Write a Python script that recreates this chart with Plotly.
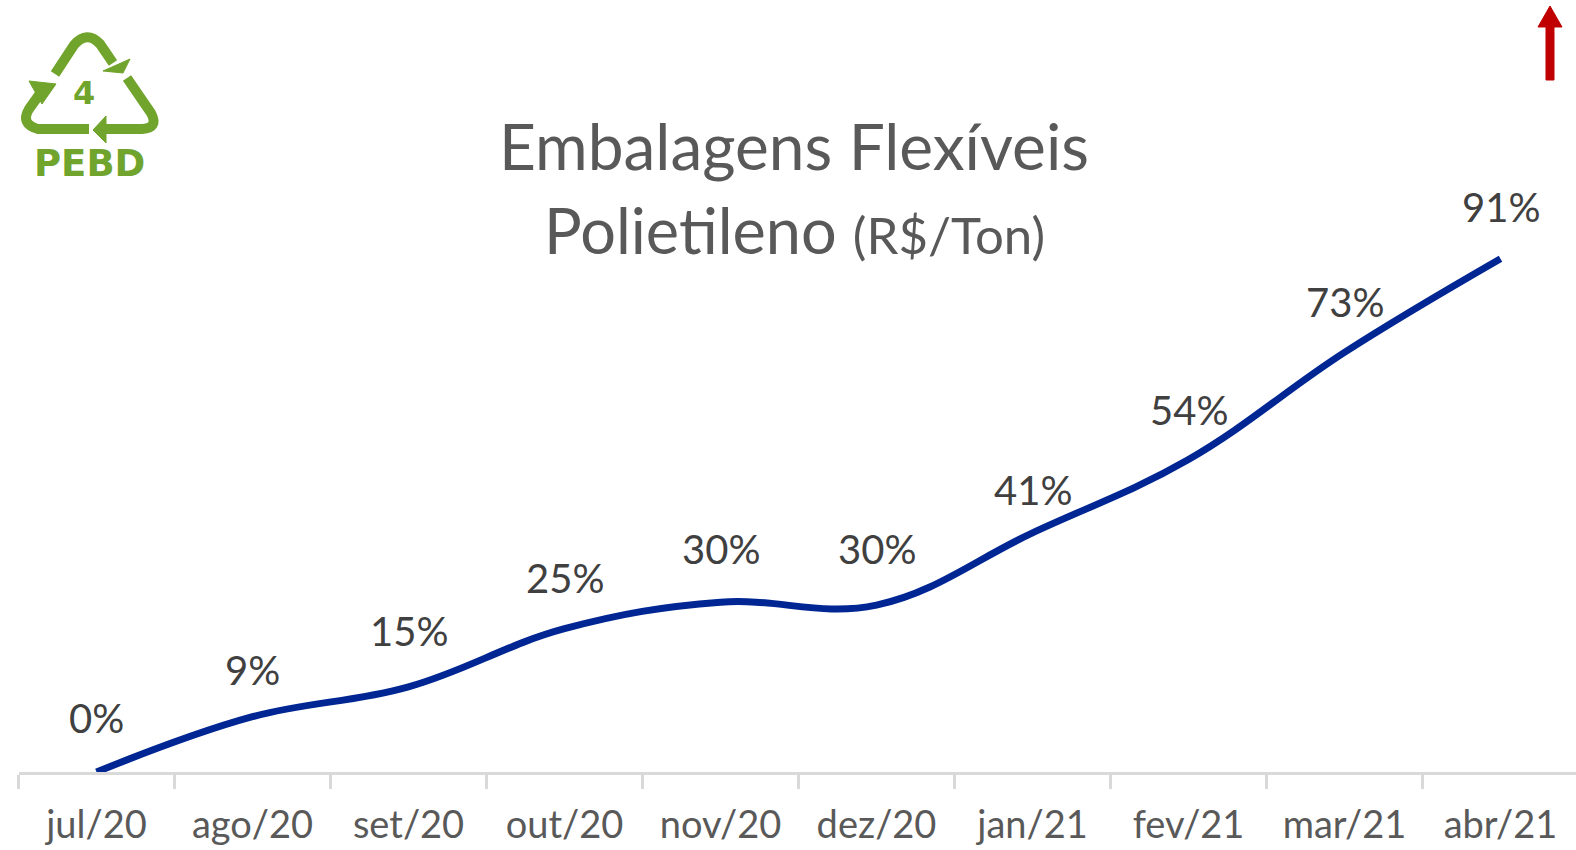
import plotly.graph_objects as go

W, H = 1576, 850
months = ["jul/20", "ago/20", "set/20", "out/20", "nov/20", "dez/20", "jan/21", "fev/21", "mar/21", "abr/21"]
series_values = [0, 9.8, 15.1, 25.4, 30.1, 29.6, 42.4, 55.4, 74.4, 91]
value_labels = ["0%", "9%", "15%", "25%", "30%", "30%", "41%", "54%", "73%", "91%"]
label_lift = [54, 47, 56, 51, 53, 56, 43, 50, 50, 52]

GREEN = "#70a42c"
RED = "#c00000"
TEXT = "#595959"
AXIS = "#d9d9d9"
FONT = "Lato, Carlito, sans-serif"


def px(x):
    return x / W


def py(y):
    return 1 - y / H


def path(cmds):
    out = []
    for c in cmds:
        if isinstance(c, str):
            out.append(c)
        else:
            out.append(f"{px(c[0]):.5f},{py(c[1]):.5f}")
    return " ".join(out)


def stroke(cmds, color=GREEN, width=10):
    return dict(type="path", xref="paper", yref="paper", path=path(cmds),
                line=dict(color=color, width=width), layer="above")


def solid(cmds, color=GREEN):
    return dict(type="path", xref="paper", yref="paper", path=path(cmds) + " Z",
                fillcolor=color, line=dict(color=color, width=1), layer="above")


shapes = [
    # recycling arrows
    stroke(["M", (55, 74), "L", (74, 45), "Q", (87, 30), (100, 44), "L", (113, 63)]),
    solid(["M", (130, 59), "L", (123, 73), "L", (103, 71)]),
    stroke(["M", (89, 129), "L", (38, 129), "Q", (20, 124), (29, 109), "L", (44, 88)]),
    solid(["M", (29, 81), "L", (56, 84), "L", (42, 104)]),
    stroke(["M", (127, 78), "L", (151, 113), "Q", (159, 128), (142, 129), "L", (106, 129)]),
    solid(["M", (106, 116), "L", (106, 143), "L", (93, 130)]),
    # red arrow
    solid(["M", (1546, 27), "L", (1546, 80), "L", (1554, 80), "L", (1554, 27),
           "L", (1562, 27), "L", (1550, 6), "L", (1538, 27)], RED),
]


def text(x, y, s, size, color=TEXT, family=FONT, bold=False):
    return dict(xref="paper", yref="paper", x=px(x), y=py(y), text=f"<b>{s}</b>" if bold else s,
                showarrow=False, xanchor="center", yanchor="middle",
                font=dict(size=size, color=color, family=family))


annotations = [
    text(84, 93, "4", 32, GREEN, "DejaVu Sans", True),
    text(89, 164, "PEBD", 37, GREEN, "DejaVu Sans", True),
    text(794, 145, "Embalagens Flexíveis", 64),
    text(794, 229, "Polietileno <span style='font-size:51px'>(R$/Ton)</span>", 63),
]
for m, v, lab, lift in zip(months, series_values, value_labels, label_lift):
    annotations.append(dict(x=m, y=v, xref="x", yref="y", text=lab, showarrow=False,
                            yshift=lift, xanchor="center", yanchor="middle",
                            font=dict(size=40, color="#404040", family=FONT)))

fig = go.Figure(go.Scatter(
    x=months, y=series_values, mode="lines", cliponaxis=False, hoverinfo="skip",
    line=dict(color="#002693", width=7, shape="spline", smoothing=1.1),
))
fig.update_layout(
    width=W, height=H, margin=dict(l=0, r=0, t=0, b=0),
    paper_bgcolor="white", plot_bgcolor="white", showlegend=False,
    shapes=shapes, annotations=annotations,
    xaxis=dict(domain=[px(18.5), 1], type="category", categoryorder="array", categoryarray=months,
               range=[-0.5, 9.484], showgrid=False, zeroline=False,
               showline=True, linecolor=AXIS, linewidth=3,
               ticks="outside", tickson="boundaries", ticklen=14, tickwidth=3, tickcolor=AXIS,
               ticklabelstandoff=17,
               tickfont=dict(size=38, color=TEXT, family=FONT), automargin=False),
    yaxis=dict(domain=[py(772), 1], range=[0, 772 / 5.64], visible=False),
)
fig.write_html("out.html", config={"displayModeBar": False},
               post_script="document.body.style.margin='0';")
